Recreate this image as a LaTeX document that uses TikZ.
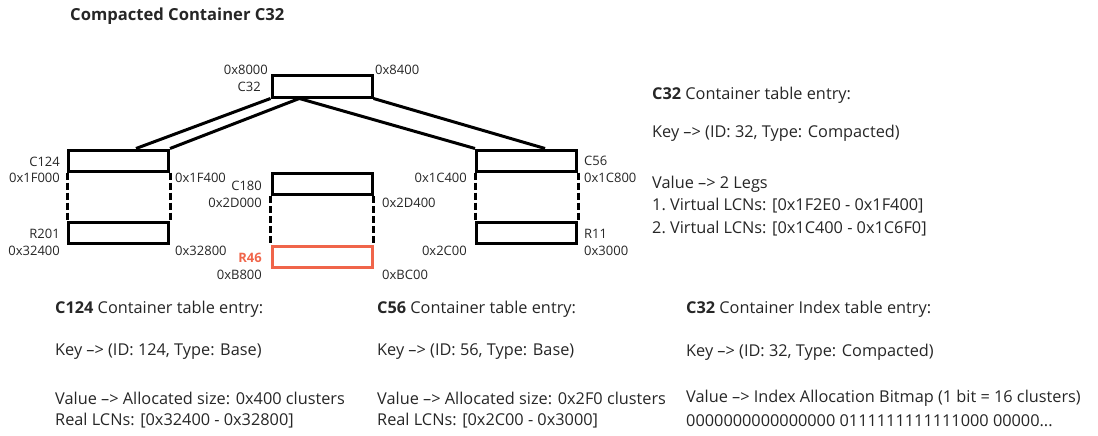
\documentclass[tikz,border=0pt]{standalone}
\usepackage{fontspec}
\setmainfont{Open Sans}
\usetikzlibrary{positioning,calc}
\definecolor{LegRed}{HTML}{F0654A}
\definecolor{InkText}{HTML}{262626}

\tikzset{
  blk/.style={draw=black,line width=3pt,minimum width=100pt,minimum height=21pt,inner sep=0pt},
  gap/.style={line width=3pt,dash pattern=on 7pt off 3pt},
  leg/.style={line width=3pt},
  addr/.style={font=\fontsize{13}{14}\selectfont,text=InkText,inner sep=0pt},
  body/.style={font=\fontsize{16.3}{18}\selectfont,text=InkText,inner sep=0pt,anchor=west}
}

\begin{document}
\begin{tikzpicture}[x=1pt,y=-1pt]
        \useasboundingbox (0,0) rectangle (1098,436);
        \node[font=\fontsize{16.6}{18}\selectfont\bfseries,text=InkText,anchor=west,inner sep=0pt] (title) at (70,16) {Compacted Container C32};

        % containers
        \node[blk] (c32) at (322,86.5) {};
        \node[blk] (c124) at (118.5,160.5) {};
        \node[blk] (r201) at (118.5,232.5) {};
        \node[blk] (c180) at (322,184) {};
        \node[blk,draw=LegRed] (r46) at (322,256.5) {};
        \node[blk] (c56) at (526.5,160.5) {};
        \node[blk] (r11) at (526.5,232.5) {};

        % legs
        \coordinate (split) at ($(c32.south west)!0.28!(c32.south east)$);
        \draw[leg] (c32.south west) -- ($(c124.north west)!0.67!(c124.north east)$);
        \draw[leg] (split) -- (c124.north east);
        \draw[leg] (split) -- (c56.north west);
        \draw[leg] (c32.south east) -- ($(c56.north west)!0.68!(c56.north east)$);

        % skipped ranges
        \foreach \top/\bot in {c124/r201,c180/r46,c56/r11} {
          \draw[gap] (\top.south west) -- (\bot.north west);
          \draw[gap] (\top.south east) -- (\bot.north east);
        }

        % address labels
        \node[addr,anchor=east] (a8000) at (268,70) {0x8000};
        \node[addr,anchor=east] (lc32) at (261,87) {C32};
        \node[addr,anchor=west] (a8400) at (375,70) {0x8400};
        \node[addr,anchor=east] (lc124) at (60,162) {C124};
        \node[addr,anchor=east] (a1f000) at (60,178) {0x1F000};
        \node[addr,anchor=west] (a1f400) at (175,178) {0x1F400};
        \node[addr,anchor=east] (lr201) at (60,234) {R201};
        \node[addr,anchor=east] (a32400) at (60,251) {0x32400};
        \node[addr,anchor=west] (a32800) at (175,251) {0x32800};
        \node[addr,anchor=east] (lc180) at (262,186) {C180};
        \node[addr,anchor=east] (a2d000) at (262,203) {0x2D000};
        \node[addr,anchor=west] (a2d400) at (382,203) {0x2D400};
        \node[addr,anchor=east,text=LegRed,font=\fontsize{13}{14}\selectfont\bfseries] (lr46) at (262,258) {R46};
        \node[addr,anchor=east] (ab800) at (262,275) {0xB800};
        \node[addr,anchor=west] (abc00) at (382,275) {0xBC00};
        \node[addr,anchor=west] (lc56) at (584,161) {C56};
        \node[addr,anchor=west] (a1c800) at (584,178) {0x1C800};
        \node[addr,anchor=east] (a1c400) at (467,178) {0x1C400};
        \node[addr,anchor=west] (lr11) at (584,234) {R11};
        \node[addr,anchor=west] (a3000) at (584,251) {0x3000};
        \node[addr,anchor=east] (a2c00) at (467,251) {0x2C00};

        % C32 container table entry
        \node[body] (t32) at (652,95) {\textbf{C32} Container table entry:};
        \node[body] (k32) at (652,133) {Key \textendash> (ID: 32, Type: Compacted)};
        \node[body] (v32) at (652,184) {Value \textendash> 2 Legs};
        \node[body] (v32a) at (652,206) {1.\ Virtual LCNs: [0x1F2E0 - 0x1F400]};
        \node[body] (v32b) at (652,229) {2.\ Virtual LCNs: [0x1C400 - 0x1C6F0]};

        % C124 container table entry
        \node[body] (t124) at (55,309) {\textbf{C124} Container table entry:};
        \node[body] (k124) at (55,352) {Key \textendash> (ID: 124, Type: Base)};
        \node[body] (v124) at (55,398) {Value \textendash> Allocated size: 0x400 clusters};
        \node[body] (r124) at (55,421) {Real LCNs: [0x32400 - 0x32800]};

        % C56 container table entry
        \node[body] (t56) at (377,309) {\textbf{C56} Container table entry:};
        \node[body] (k56) at (377,352) {Key \textendash> (ID: 56, Type: Base)};
        \node[body] (v56) at (377,398) {Value \textendash> Allocated size: 0x2F0 clusters};
        \node[body] (r56) at (377,421) {Real LCNs: [0x2C00 - 0x3000]};

        % C32 container index table entry
        \node[body] (ti32) at (686,309) {\textbf{C32} Container Index table entry:};
        \node[body] (ki32) at (686,352) {Key \textendash> (ID: 32, Type: Compacted)};
        \node[body] (vi32) at (686,398) {Value \textendash> Index Allocation Bitmap (1 bit = 16 clusters)};
        \node[body] (bi32) at (686,421) {0000000000000000 0111111111111000 00000...};
      \end{tikzpicture}
\end{document}
